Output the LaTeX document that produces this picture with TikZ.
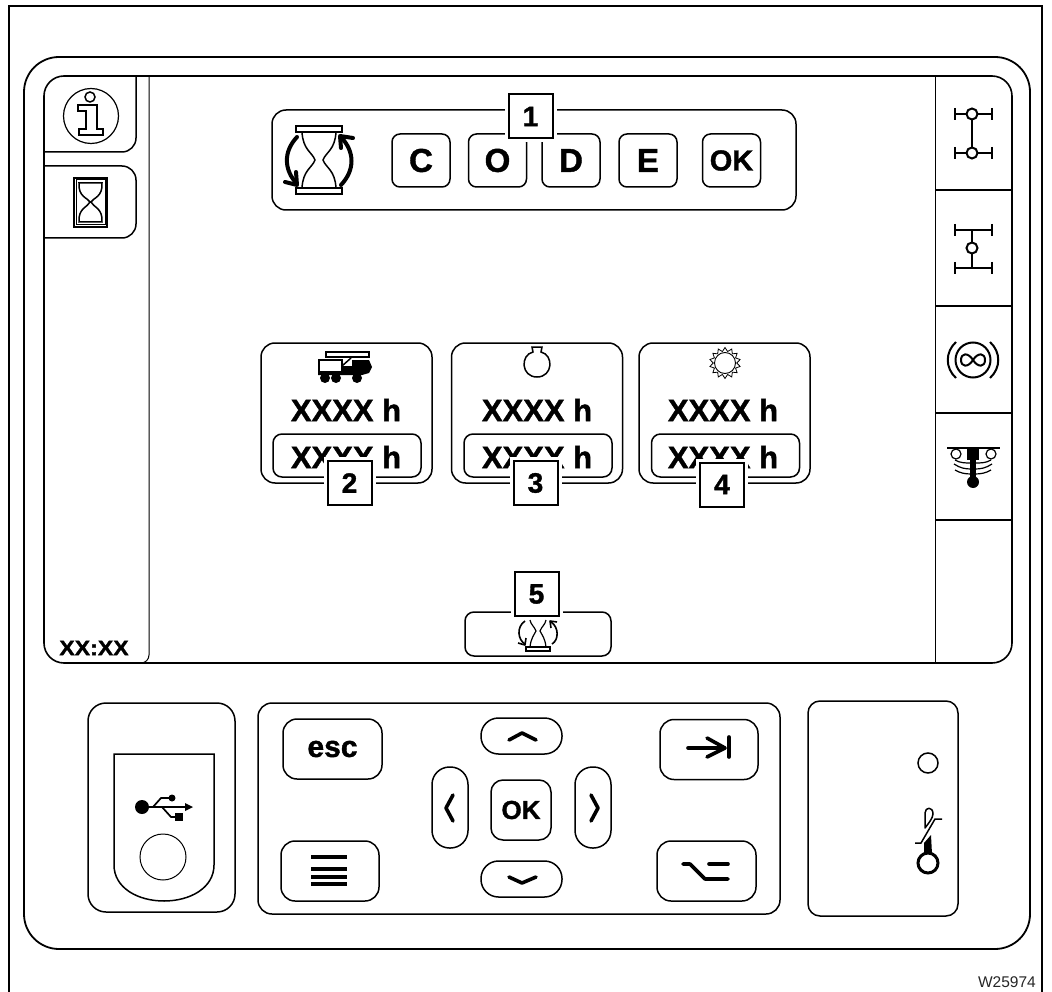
\documentclass[tikz,border=0pt]{standalone}
\usepackage{fontspec}
\setmainfont[BoldFeatures={FakeBold=1.3}]{Liberation Sans}
\usetikzlibrary{shapes.geometric, positioning}
\tikzset{
    panel/.style={draw=black, line width=1.5pt, fill=white, rounded corners=14pt, inner sep=0pt},
    keycap/.style={panel, font=\fontsize{32}{32}\selectfont\bfseries},
    softkey/.style={panel, rounded corners=8pt, minimum width=58pt, minimum height=53pt, font=\fontsize{33}{33}\selectfont\bfseries},
    hwkey/.style={keycap, minimum width=98pt, minimum height=60pt},
    pill/.style={panel, rounded corners=17.5pt},
    timecard/.style={panel, minimum width=171pt, minimum height=140pt},
    timebox/.style={panel, rounded corners=9pt, minimum width=148pt, minimum height=43pt},
    timetext/.style={font=\fontsize{31}{31}\selectfont\bfseries, inner sep=0pt},
    callout/.style={draw=black, line width=2pt, fill=white, minimum size=44pt, inner sep=0pt,
        preaction={draw=white, line width=8pt}, font=\fontsize{28}{28}\selectfont\bfseries},
    glyph/.style={line width=3.6pt, line cap=round, line join=round},
    thinline/.style={line width=1.5pt},
    axle/.style={line width=2pt},
    bar/.style={line width=4pt},
}
\begin{document}
\begin{tikzpicture}[x=1pt, y=-1pt]
        \useasboundingbox (0, 0) rectangle (1052, 992);

        % Sheet frame
        \coordinate (frametl) at (9, 6);
        \coordinate (frametr) at (1042, 6);
        \coordinate (framebl) at (9, 992);
        \coordinate (framebr) at (1042, 992);
        \draw[line width=2pt] (framebl) -- (frametl) -- (frametr) -- (framebr);
        \node[anchor=east, inner sep=0pt, font=\fontsize{15.5}{15.5}\selectfont, text=black!85] (drawingno) at (1036, 982) {W25974};

        % Housing and screen
        \draw[line width=1.8pt, rounded corners=35pt] (24, 57) rectangle (1030, 949);
        \draw[line width=1.6pt, rounded corners=20pt] (44, 76) rectangle (1012, 663);
        \draw[line width=1pt] (149, 76) -- (149, 655) to[out=90+180, in=0] (141, 663);
        \draw[line width=1pt] (935, 76) -- (935, 663);
        \draw[line width=1.2pt] (935, 190) -- (1012, 190);
        \draw[line width=1.2pt] (935, 306) -- (1012, 306);
        \draw[line width=1.2pt] (935, 413) -- (1012, 413);
        \draw[line width=1.2pt] (935, 520) -- (1012, 520);

        % Left tabs
        \draw[thinline, rounded corners=14pt] (136, 76) -- (136, 152) -- (44, 152);
        \draw[thinline, rounded corners=14pt] (44, 166) -- (136, 166) -- (136, 238) -- (44, 238);
        \node[font=\fontsize{21}{21}\selectfont\bfseries, inner sep=0pt, xscale=1.1] (clock) at (94, 648) {XX:XX};

        % Info symbol
        \draw[line width=1.2pt] (91, 116) circle (27.5);
        \draw[thinline] (90, 97) circle (5);
        \draw[thinline] (78, 105) -- (97, 105) -- (97, 129) -- (103, 129) -- (103, 135) -- (79, 135) -- (79, 129) -- (86, 129) -- (86, 111) -- (78, 111) -- cycle;

        % Hourglass tab symbol
        \draw[thinline] (74, 178) rectangle (107, 227);
        \draw[line width=1pt] (76, 180) rectangle (105, 225);
        \draw[thinline] (79, 183) .. controls (78, 197) and (88, 198) .. (90, 202) .. controls (88, 207) and (78, 208) .. (79, 222) -- (102, 222) .. controls (103, 208) and (93, 207) .. (91, 202) .. controls (93, 198) and (103, 197) .. (102, 183) -- cycle;

        % Code panel
        \node[panel, minimum width=524pt, minimum height=100pt] (codebox) at (534, 160) {};
        \node[softkey] (keyc) at (421, 160.5) {C};
        \node[softkey] (keyo) at (497.5, 160.5) {O};
        \node[softkey] (keyd) at (571, 160.5) {D};
        \node[softkey] (keye) at (648, 160.5) {E};
        \node[softkey, font=\fontsize{29}{29}\selectfont\bfseries] (keyok) at (731.5, 160.5) {OK};
        \node[callout] (callouta) at (530.5, 116.5) {1};

        % Hourglass with arrows
        \node[draw, thinline, fill=white, minimum width=46pt, minimum height=6pt, inner sep=0pt] (glasstop) at (319, 129) {};
        \node[draw, thinline, fill=white, minimum width=46pt, minimum height=6pt, inner sep=0pt] (glassbot) at (319, 191) {};
        \draw[thinline] (302, 132) .. controls (303, 150) and (312, 152) .. (315, 160) .. controls (312, 168) and (303, 170) .. (302, 188);
        \draw[thinline] (336, 132) .. controls (335, 150) and (326, 152) .. (323, 160) .. controls (326, 168) and (335, 170) .. (336, 188);
        \draw[line width=4pt, line cap=round] (297, 137) .. controls (283, 152) and (284, 170) .. (297, 184);
        \draw[line width=4pt, line cap=round, line join=round] (285, 182) -- (297, 185) -- (296, 172);
        \draw[line width=4pt, line cap=round] (341, 185) .. controls (355, 170) and (355, 152) .. (341, 137);
        \draw[line width=4pt, line cap=round, line join=round] (341, 148) -- (340, 136) -- (353, 138);

        % Time cards
        \node[timecard] (cardcrane) at (346.5, 413) {};
        \node[timecard] (cardengine) at (537, 413) {};
        \node[timecard] (cardgear) at (724.5, 413) {};
        \node[timetext] (totalcrane) at (346, 410) {XXXX h};
        \node[timetext] (totalengine) at (537, 410) {XXXX h};
        \node[timetext] (totalgear) at (723, 410) {XXXX h};
        \node[timebox] (boxcrane) at (347, 455.5) {};
        \node[timebox] (boxengine) at (538, 455.5) {};
        \node[timebox] (boxgear) at (725.5, 455.5) {};
        \node[timetext] (partcrane) at (346, 457) {XXXX h};
        \node[timetext] (partengine) at (537, 457) {XXXX h};
        \node[timetext] (partgear) at (723, 457) {XXXX h};
        \node[callout] (calloutb) at (349.5, 483) {2};
        \node[callout] (calloutc) at (535.5, 483) {3};
        \node[callout] (calloutd) at (722, 484.5) {4};

        % Crane truck symbol
        \draw[thinline] (326, 352) rectangle (369, 357);
        \fill (352, 360) -- (369, 360) -- (372, 367) -- (369, 373) -- (362, 375) -- (318, 375) -- (318, 372) -- (342, 372) -- (342, 366) -- (352, 366) -- cycle;
        \draw[thinline, fill=white] (319, 360) rectangle (342, 372);
        \draw[line width=1.5pt] (342, 366) -- (351, 358);
        \fill (325, 378) circle (5);
        \fill (336, 378) circle (5);
        \fill (357, 378) circle (5);

        % Engine symbol
        \draw[thinline, fill=white] (532, 347) -- (542, 347) -- (541, 352) .. controls (554, 355) and (553, 377) .. (537, 377) .. controls (521, 377) and (520, 355) .. (533, 352) -- cycle;

        % Gear symbol
        \node[draw, line width=0.8pt, star, star points=14, star point ratio=1.32, minimum size=31pt, inner sep=0pt] (gearteeth) at (725, 363) {};
        \node[draw, line width=0.9pt, circle, minimum size=21pt, inner sep=0pt] (gearhub) at (725, 363) {};

        % Bottom softkey
        \node[panel, rounded corners=9pt, minimum width=146pt, minimum height=44pt] (timerkey) at (538, 634) {};
        \node[callout] (calloute) at (536.5, 594) {5};
        \node[draw, thinline, minimum width=24pt, minimum height=4pt, inner sep=0pt] (minibase) at (538, 649) {};
        \draw[line width=1.2pt] (530, 620) .. controls (531, 625) and (534, 626) .. (536, 631) .. controls (534, 635) and (531, 638) .. (530, 647);
        \draw[line width=1.2pt] (546, 620) .. controls (545, 625) and (542, 626) .. (540, 631) .. controls (542, 635) and (545, 638) .. (546, 647);
        \draw[line width=1.6pt] (525, 621) .. controls (516, 627) and (518, 640) .. (525, 644);
        \draw[line width=1.6pt, line join=round] (518, 643) -- (525, 645) -- (526, 638);
        \draw[line width=1.6pt] (552, 644) .. controls (559, 640) and (559, 627) .. (551, 622);
        \draw[line width=1.6pt, line join=round] (551, 628) -- (550, 621) -- (557, 622);

        % Axle symbols
        \draw[axle] (972, 114) -- (972, 153);
        \draw[axle] (955, 114) -- (992, 114);
        \draw[axle] (955, 153) -- (992, 153);
        \draw[axle] (955, 108) -- (955, 120);
        \draw[axle] (992, 108) -- (992, 120);
        \draw[axle] (955, 147) -- (955, 159);
        \draw[axle] (992, 147) -- (992, 159);
        \draw[axle, fill=white] (972, 114) circle (5.5);
        \draw[axle, fill=white] (972, 153) circle (5.5);
        \draw[axle] (972, 230) -- (972, 268);
        \draw[axle] (955, 230) -- (992, 230);
        \draw[axle] (955, 268) -- (992, 268);
        \draw[axle] (955, 224) -- (955, 236);
        \draw[axle] (992, 224) -- (992, 236);
        \draw[axle] (955, 262) -- (955, 274);
        \draw[axle] (992, 262) -- (992, 274);
        \draw[axle, fill=white] (972, 248) circle (5.5);

        % Differential lock symbol
        \draw[axle] (973, 360) circle (17.5);
        \draw[axle] (973, 360) .. controls (968, 352) and (961, 353) .. (961, 360) .. controls (961, 367) and (968, 368) .. (973, 360) .. controls (978, 352) and (985, 353) .. (985, 360) .. controls (985, 367) and (978, 368) .. (973, 360) -- cycle;
        \draw[axle] (956, 342) .. controls (945, 352) and (945, 368) .. (956, 378);
        \draw[axle] (990, 342) .. controls (1001, 352) and (1001, 368) .. (990, 378);

        % Suspension symbol
        \draw[thinline] (947, 448) -- (1000, 448);
        \draw[line width=1.2pt] (956, 454) circle (5);
        \draw[line width=1.2pt] (991, 454) circle (5);
        \fill (967, 448) rectangle (979, 460);
        \fill (970, 460) rectangle (976, 480);
        \fill (973, 482) circle (6);
        \draw[line width=1.2pt] (955, 460) .. controls (960, 463) and (965, 463) .. (971, 463);
        \draw[line width=1.2pt] (991, 460) .. controls (986, 463) and (981, 463) .. (975, 463);
        \draw[line width=1.2pt] (954, 464) .. controls (960, 468) and (965, 469) .. (971, 469);
        \draw[line width=1.2pt] (992, 464) .. controls (986, 468) and (981, 469) .. (975, 469);
        \draw[line width=1.2pt] (955, 470) .. controls (960, 473) and (965, 474) .. (971, 474);
        \draw[line width=1.2pt] (991, 470) .. controls (986, 473) and (981, 474) .. (975, 474);

        % USB panel
        \draw[line width=1.5pt, rounded corners=18pt] (88, 703) rectangle (235, 912);
        \draw[thinline] (114, 865) -- (114, 754) -- (214, 754) -- (214, 865) .. controls (214, 888) and (190, 901) .. (164, 901) .. controls (138, 901) and (114, 888) .. (114, 865) -- cycle;
        \draw[line width=1pt] (163, 857) circle (23);
        \fill (142, 807) circle (7);
        \draw[line width=1.7pt] (142, 807) -- (186, 807);
        \fill (193, 807) -- (185, 803) -- (185, 811) -- cycle;
        \draw[line width=1.7pt] (153, 807) -- (161, 798) -- (172, 798);
        \fill (172, 798) circle (3.5);
        \draw[line width=1.7pt] (162, 807) -- (171, 817) -- (176, 817);
        \fill (175, 813) rectangle (183, 821);

        % Keypad
        \node[panel, minimum width=522pt, minimum height=211pt] (keypad) at (519, 808.5) {};
        \node[hwkey, minimum width=99pt, font=\fontsize{30}{30}\selectfont\bfseries] (keyesc) at (332.5, 749) {esc};
        \node[hwkey] (keymenu) at (330, 871) {};
        \node[hwkey] (keytab) at (709, 749.5) {};
        \node[hwkey, minimum width=99pt] (keyalt) at (706.5, 871) {};
        \node[pill, minimum width=81pt, minimum height=36pt] (keyup) at (521.5, 736) {};
        \node[pill, minimum width=81pt, minimum height=36pt] (keydown) at (521.5, 879) {};
        \node[pill, minimum width=36pt, minimum height=81pt] (keyleft) at (450, 807.5) {};
        \node[pill, minimum width=36pt, minimum height=81pt] (keyright) at (593, 807.5) {};
        \node[keycap, rounded corners=12pt, minimum size=60pt, font=\fontsize{26}{26}\selectfont\bfseries] (keyconfirm) at (521, 810) {OK};

        % Keypad glyphs
        \draw[bar] (311, 857) -- (347, 857);
        \draw[bar] (311, 869) -- (347, 869);
        \draw[bar] (311, 877) -- (347, 877);
        \draw[bar] (311, 884) -- (347, 884);
        \draw[glyph] (509, 740) -- (522, 733) -- (536, 740);
        \draw[glyph] (509, 877) -- (522, 883) -- (536, 877);
        \draw[glyph] (453, 795) -- (446, 808) -- (453, 821);
        \draw[glyph] (591, 795) -- (598, 808) -- (591, 821);
        \draw[glyph] (688, 748) -- (724, 748);
        \draw[glyph] (707, 738) -- (725, 748) -- (707, 757);
        \draw[glyph] (729, 737) -- (729, 757);
        \draw[glyph] (683, 864) -- (690, 864) -- (705, 879) -- (728, 879);
        \draw[glyph] (709, 864) -- (728, 864);

        % Ignition panel
        \draw[line width=1.5pt, rounded corners=12pt] (808, 701) rectangle (958, 916);
        \draw[thinline] (928, 763) circle (10);
        \draw[line width=3pt] (928, 863) circle (10);
        \fill (931, 835) -- (932, 854) -- (924, 854) -- (924, 843) -- cycle;
        \draw[line width=1.5pt] (915, 843) -- (921, 843) -- (935, 819) -- (942, 819);
        \draw[line width=1.5pt, line join=round] (925, 828) -- (925, 813) .. controls (925, 807) and (933, 806) .. (933, 814) .. controls (933, 818) and (928, 824) .. (925, 828) -- cycle;
    \end{tikzpicture}
\end{document}
